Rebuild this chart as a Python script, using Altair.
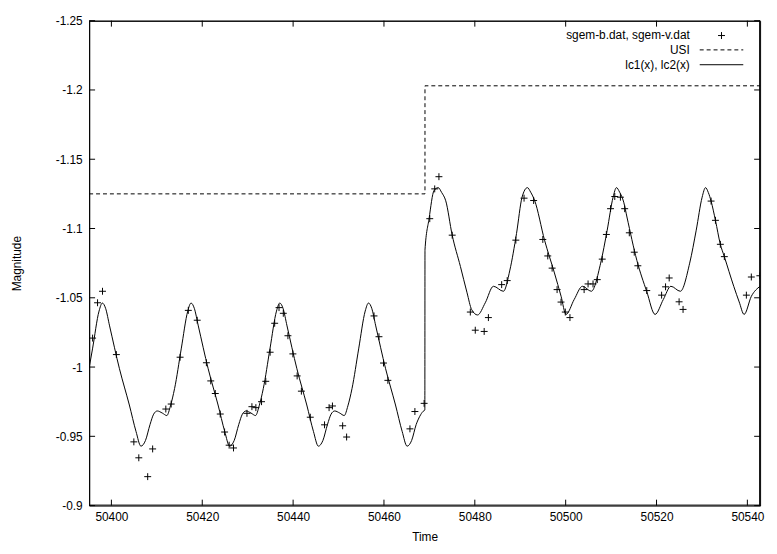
import altair as alt
import pandas as pd

FONT = "Liberation Sans, Arial, Helvetica, sans-serif"

# ---- axis setup ----
x_domain = [50395.1, 50542.8]
y_domain = [-1.25, -0.9]
x_ticks = [50400, 50420, 50440, 50460, 50480, 50500, 50520, 50540]
y_ticks = [-1.25, -1.2, -1.15, -1.1, -1.05, -1.0, -0.95, -0.9]

# ---- observed points (sgem-b.dat, sgem-v.dat) ----
pts_t = [50395.86, 50396.95, 50398.04, 50401.09, 50404.94, 50406.03, 50407.99, 50409.08,
         50411.98, 50413.16, 50415.12, 50416.93, 50418.89, 50420.91, 50421.87, 50422.87,
         50423.96, 50424.92, 50425.92, 50426.88, 50429.84, 50430.93, 50431.80, 50433.05,
         50433.98, 50434.94, 50435.94, 50436.90, 50437.84, 50438.86, 50439.95, 50440.89,
         50441.82, 50443.78, 50446.92, 50447.92, 50448.66, 50450.91, 50451.78, 50457.81,
         50458.90, 50459.90, 50460.86, 50465.72, 50466.81, 50468.84, 50470.08, 50471.17,
         50472.10, 50475.02, 50479.01, 50480.10, 50482.06, 50482.99, 50485.91, 50487.13,
         50489.03, 50490.84, 50492.95, 50494.97, 50496.06, 50497.02, 50498.11, 50498.98,
         50499.92, 50500.94, 50504.06, 50504.93, 50506.02, 50506.96, 50508.05, 50508.96,
         50509.88, 50510.81, 50512.05, 50512.99, 50514.01, 50515.10, 50515.89, 50517.85,
         50521.12, 50521.99, 50522.79, 50524.97, 50525.84, 50532.01, 50532.97, 50534.05,
         50534.93, 50539.78, 50540.87, 50542.75]
pts_m = [-1.0209, -1.0464, -1.0547, -1.0090, -0.9460, -0.9345, -0.9209, -0.9409,
         -0.9697, -0.9733, -1.0071, -1.0409, -1.0338, -1.0031, -0.9900, -0.9809,
         -0.9661, -0.9531, -0.9436, -0.9416, -0.9666, -0.9714, -0.9707, -0.9750,
         -0.9897, -1.0107, -1.0316, -1.0429, -1.0388, -1.0226, -1.0095, -0.9936,
         -0.9826, -0.9638, -0.9583, -0.9707, -0.9719, -0.9576, -0.9495, -1.0369,
         -1.0219, -1.0029, -0.9904, -0.9554, -0.9679, -0.9738, -1.1071, -1.1286,
         -1.1374, -1.0952, -1.0397, -1.0266, -1.0257, -1.0357, -1.0595, -1.0624,
         -1.0916, -1.1219, -1.1202, -1.0921, -1.0802, -1.0714, -1.0559, -1.0469,
         -1.0397, -1.0357, -1.0559, -1.0600, -1.0600, -1.0631, -1.0779, -1.0957,
         -1.1143, -1.1231, -1.1226, -1.1143, -1.0969, -1.0829, -1.0731, -1.0552,
         -1.0519, -1.0579, -1.0643, -1.0471, -1.0416, -1.1198, -1.1059, -1.0886,
         -1.0797, -1.0519, -1.0650, -1.0659]

# ---- model curve lc1(x), lc2(x) ----
curve_t = [50395.1, 50395.84, 50397.28, 50398.0, 50398.72, 50399.6, 50401.77, 50403.95,
           50405.41, 50406.5, 50407.5, 50408.5, 50409.3, 50410.1, 50411.2, 50412.2,
           50413.0, 50413.91, 50415.37, 50416.81, 50417.53, 50418.25, 50419.13, 50421.30,
           50423.48, 50424.94, 50426.03, 50427.03, 50428.03, 50428.83, 50429.63, 50430.73,
           50431.73, 50432.53, 50433.44, 50434.90, 50436.34, 50437.06, 50437.78, 50438.66,
           50440.83, 50443.01, 50444.47, 50445.56, 50446.56, 50447.56, 50448.36, 50449.16,
           50450.26, 50451.26, 50452.06, 50452.97, 50454.43, 50455.87, 50456.59, 50457.31,
           50458.19, 50460.36, 50462.54, 50464.00, 50465.09, 50466.09, 50467.09, 50467.89,
           50468.6, 50469.0, 50469.03, 50469.93, 50471.02, 50471.93, 50472.7, 50473.6,
           50475.02, 50476.83, 50478.29, 50479.3, 50480.6, 50482.3, 50484.1, 50486.3,
           50487.72, 50489.18, 50490.40, 50491.58, 50492.3, 50493.17, 50495.35, 50497.53,
           50498.99, 50500.07, 50501.88, 50503.69, 50505.65, 50507.70, 50509.14, 50510.44,
           50511.18, 50511.88, 50512.78, 50513.49, 50515.67, 50517.85, 50519.68, 50521.5,
           50523.16, 50525.25, 50527.3, 50528.74, 50530.04, 50530.79, 50531.4, 50532.01,
           50532.97, 50534.05, 50534.93, 50537.0, 50538.2, 50539.28, 50540.88, 50542.8]
curve_m = [-0.9995, -1.0131, -1.0404, -1.0462, -1.0424, -1.0297, -0.9988, -0.9726,
           -0.9536, -0.9429, -0.9470, -0.9585, -0.9660, -0.9683, -0.9668, -0.9650,
           -0.9720, -0.9845, -1.0131, -1.0404, -1.0462, -1.0424, -1.0297, -0.9988,
           -0.9726, -0.9536, -0.9429, -0.9470, -0.9585, -0.9660, -0.9683, -0.9668,
           -0.9650, -0.9720, -0.9845, -1.0131, -1.0404, -1.0462, -1.0424, -1.0297,
           -0.9988, -0.9726, -0.9536, -0.9429, -0.9470, -0.9585, -0.9660, -0.9683,
           -0.9668, -0.9650, -0.9720, -0.9845, -1.0131, -1.0404, -1.0462, -1.0424,
           -1.0297, -0.9988, -0.9726, -0.9536, -0.9429, -0.9470, -0.9585, -0.9645,
           -0.9680, -0.9690, -1.0845, -1.1071, -1.1274, -1.1295, -1.1260, -1.1200,
           -1.0952, -1.0726, -1.0536, -1.0415, -1.0376, -1.0464, -1.0583, -1.0547,
           -1.0700, -1.0964, -1.1226, -1.1295, -1.1262, -1.1202, -1.0916, -1.0679,
           -1.0511, -1.0380, -1.0488, -1.0583, -1.0547, -1.0750, -1.0988, -1.1226,
           -1.1295, -1.1262, -1.1190, -1.1083, -1.0770, -1.0545, -1.0380, -1.0488,
           -1.0583, -1.0547, -1.0750, -1.0988, -1.1226, -1.1295, -1.1260, -1.1198,
           -1.1059, -1.0886, -1.0797, -1.0583, -1.0470, -1.0380, -1.0511, -1.0583]

# ---- USI step ----
usi_t = [50395.1, 50469.03, 50542.8]
usi_m = [-1.125, -1.203, -1.203]

legend_labels = ["sgem-b.dat, sgem-v.dat", "USI", "lc1(x), lc2(x)"]

W, H = 678, 490
TICK = 6

pts_df = pd.DataFrame({"t": pts_t, "m": pts_m})
curve_df = pd.DataFrame({"t": curve_t, "m": curve_m})
usi_df = pd.DataFrame({"t": usi_t, "m": usi_m})
xt_df = pd.DataFrame({"t": x_ticks})
yt_df = pd.DataFrame({"m": y_ticks})

xs = alt.Scale(domain=x_domain, nice=False, zero=False)
ys = alt.Scale(domain=y_domain, reverse=True, nice=False, zero=False)

axis_style = dict(labelExpr="'' + datum.value", ticks=False, domain=False, grid=False,
                  labelFlush=False, labelFont=FONT, labelFontSize=12, labelColor="black",
                  titleFont=FONT, titleFontSize=12, titleFontWeight="normal",
                  titleColor="black")
x_axis = alt.Axis(values=x_ticks, labelPadding=6, titlePadding=9, **axis_style)
y_axis = alt.Axis(values=y_ticks, labelPadding=7, titlePadding=32, **axis_style)

# identical x / y definitions in every layer so that the shared axes merge
X = alt.X("t:Q", scale=xs, axis=x_axis, title="Time")
Y = alt.Y("m:Q", scale=ys, axis=y_axis, title="Magnitude")

CROSS = "M-1,0L1,0M0,-1L0,1"

curve = alt.Chart(curve_df).mark_line(color="black", strokeWidth=1, interpolate="monotone",
                                      clip=True).encode(x=X, y=Y)

usi = alt.Chart(usi_df).mark_line(color="black", strokeWidth=1, interpolate="step-after",
                                  strokeDash=[4, 3], clip=True).encode(x=X, y=Y)

pts = alt.Chart(pts_df).mark_point(shape=CROSS, size=49, filled=False, color="black",
                                   strokeWidth=1, opacity=1, clip=True).encode(x=X, y=Y)

# inward ticks on all four sides (gnuplot-style mirrored tics)
xt_bottom = alt.Chart(xt_df).mark_rule(color="black", strokeWidth=1).encode(
    x=X, y=alt.value(H), y2=alt.value(H - TICK))
xt_top = alt.Chart(xt_df).mark_rule(color="black", strokeWidth=1).encode(
    x=X, y=alt.value(0), y2=alt.value(TICK))
yt_left = alt.Chart(yt_df).mark_rule(color="black", strokeWidth=1).encode(
    y=Y, x=alt.value(0), x2=alt.value(TICK))
yt_right = alt.Chart(yt_df).mark_rule(color="black", strokeWidth=1).encode(
    y=Y, x=alt.value(W - TICK), x2=alt.value(W))

# plot border box (half-pixel offsets keep the 1px lines crisp)
one = alt.Data(values=[{"k": 0}])
border = [
    alt.Chart(one).mark_rule(color="black", strokeWidth=1).encode(
        x=alt.value(0), x2=alt.value(W), y=alt.value(0.5)),
    alt.Chart(one).mark_rule(color="black", strokeWidth=1).encode(
        x=alt.value(0), x2=alt.value(W), y=alt.value(H - 0.5)),
    alt.Chart(one).mark_rule(color="black", strokeWidth=1).encode(
        y=alt.value(0), y2=alt.value(H), x=alt.value(0.5)),
    alt.Chart(one).mark_rule(color="black", strokeWidth=1).encode(
        y=alt.value(0), y2=alt.value(H), x=alt.value(W - 0.5)),
]

# gnuplot-style key in the top-right corner
LX_TEXT = 607
LX_S0, LX_S1 = 617, 661
ROWS = [15, 29.5, 44.5]

def key_text(i):
    return alt.Chart(alt.Data(values=[{"label": legend_labels[i]}])).mark_text(
        align="right", baseline="middle", font=FONT, fontSize=12, color="black").encode(
        x=alt.value(LX_TEXT), y=alt.value(ROWS[i]), text="label:N")

key_pt = alt.Chart(one).mark_point(
    shape=CROSS, size=49, filled=False, color="black", strokeWidth=1, opacity=1).encode(
    x=alt.value((LX_S0 + LX_S1) / 2), y=alt.value(ROWS[0]))
key_dash = alt.Chart(one).mark_rule(
    color="black", strokeWidth=1, strokeDash=[4, 3]).encode(
    x=alt.value(LX_S0), x2=alt.value(LX_S1), y=alt.value(ROWS[1]))
key_solid = alt.Chart(one).mark_rule(
    color="black", strokeWidth=1).encode(
    x=alt.value(LX_S0), x2=alt.value(LX_S1), y=alt.value(ROWS[2]))

chart = alt.layer(
    curve, usi, pts, xt_bottom, xt_top, yt_left, yt_right, *border,
    key_text(0), key_text(1), key_text(2), key_pt, key_dash, key_solid,
).properties(
    width=W, height=H,
    background="white",
    autosize=alt.AutoSizeParams(type="none"),
    padding={"left": 82, "top": 10, "right": 9, "bottom": 38},
).configure_view(
    stroke="black", strokeWidth=1,
)

chart.save("out.html", embed_options={"renderer": "svg", "actions": False})
